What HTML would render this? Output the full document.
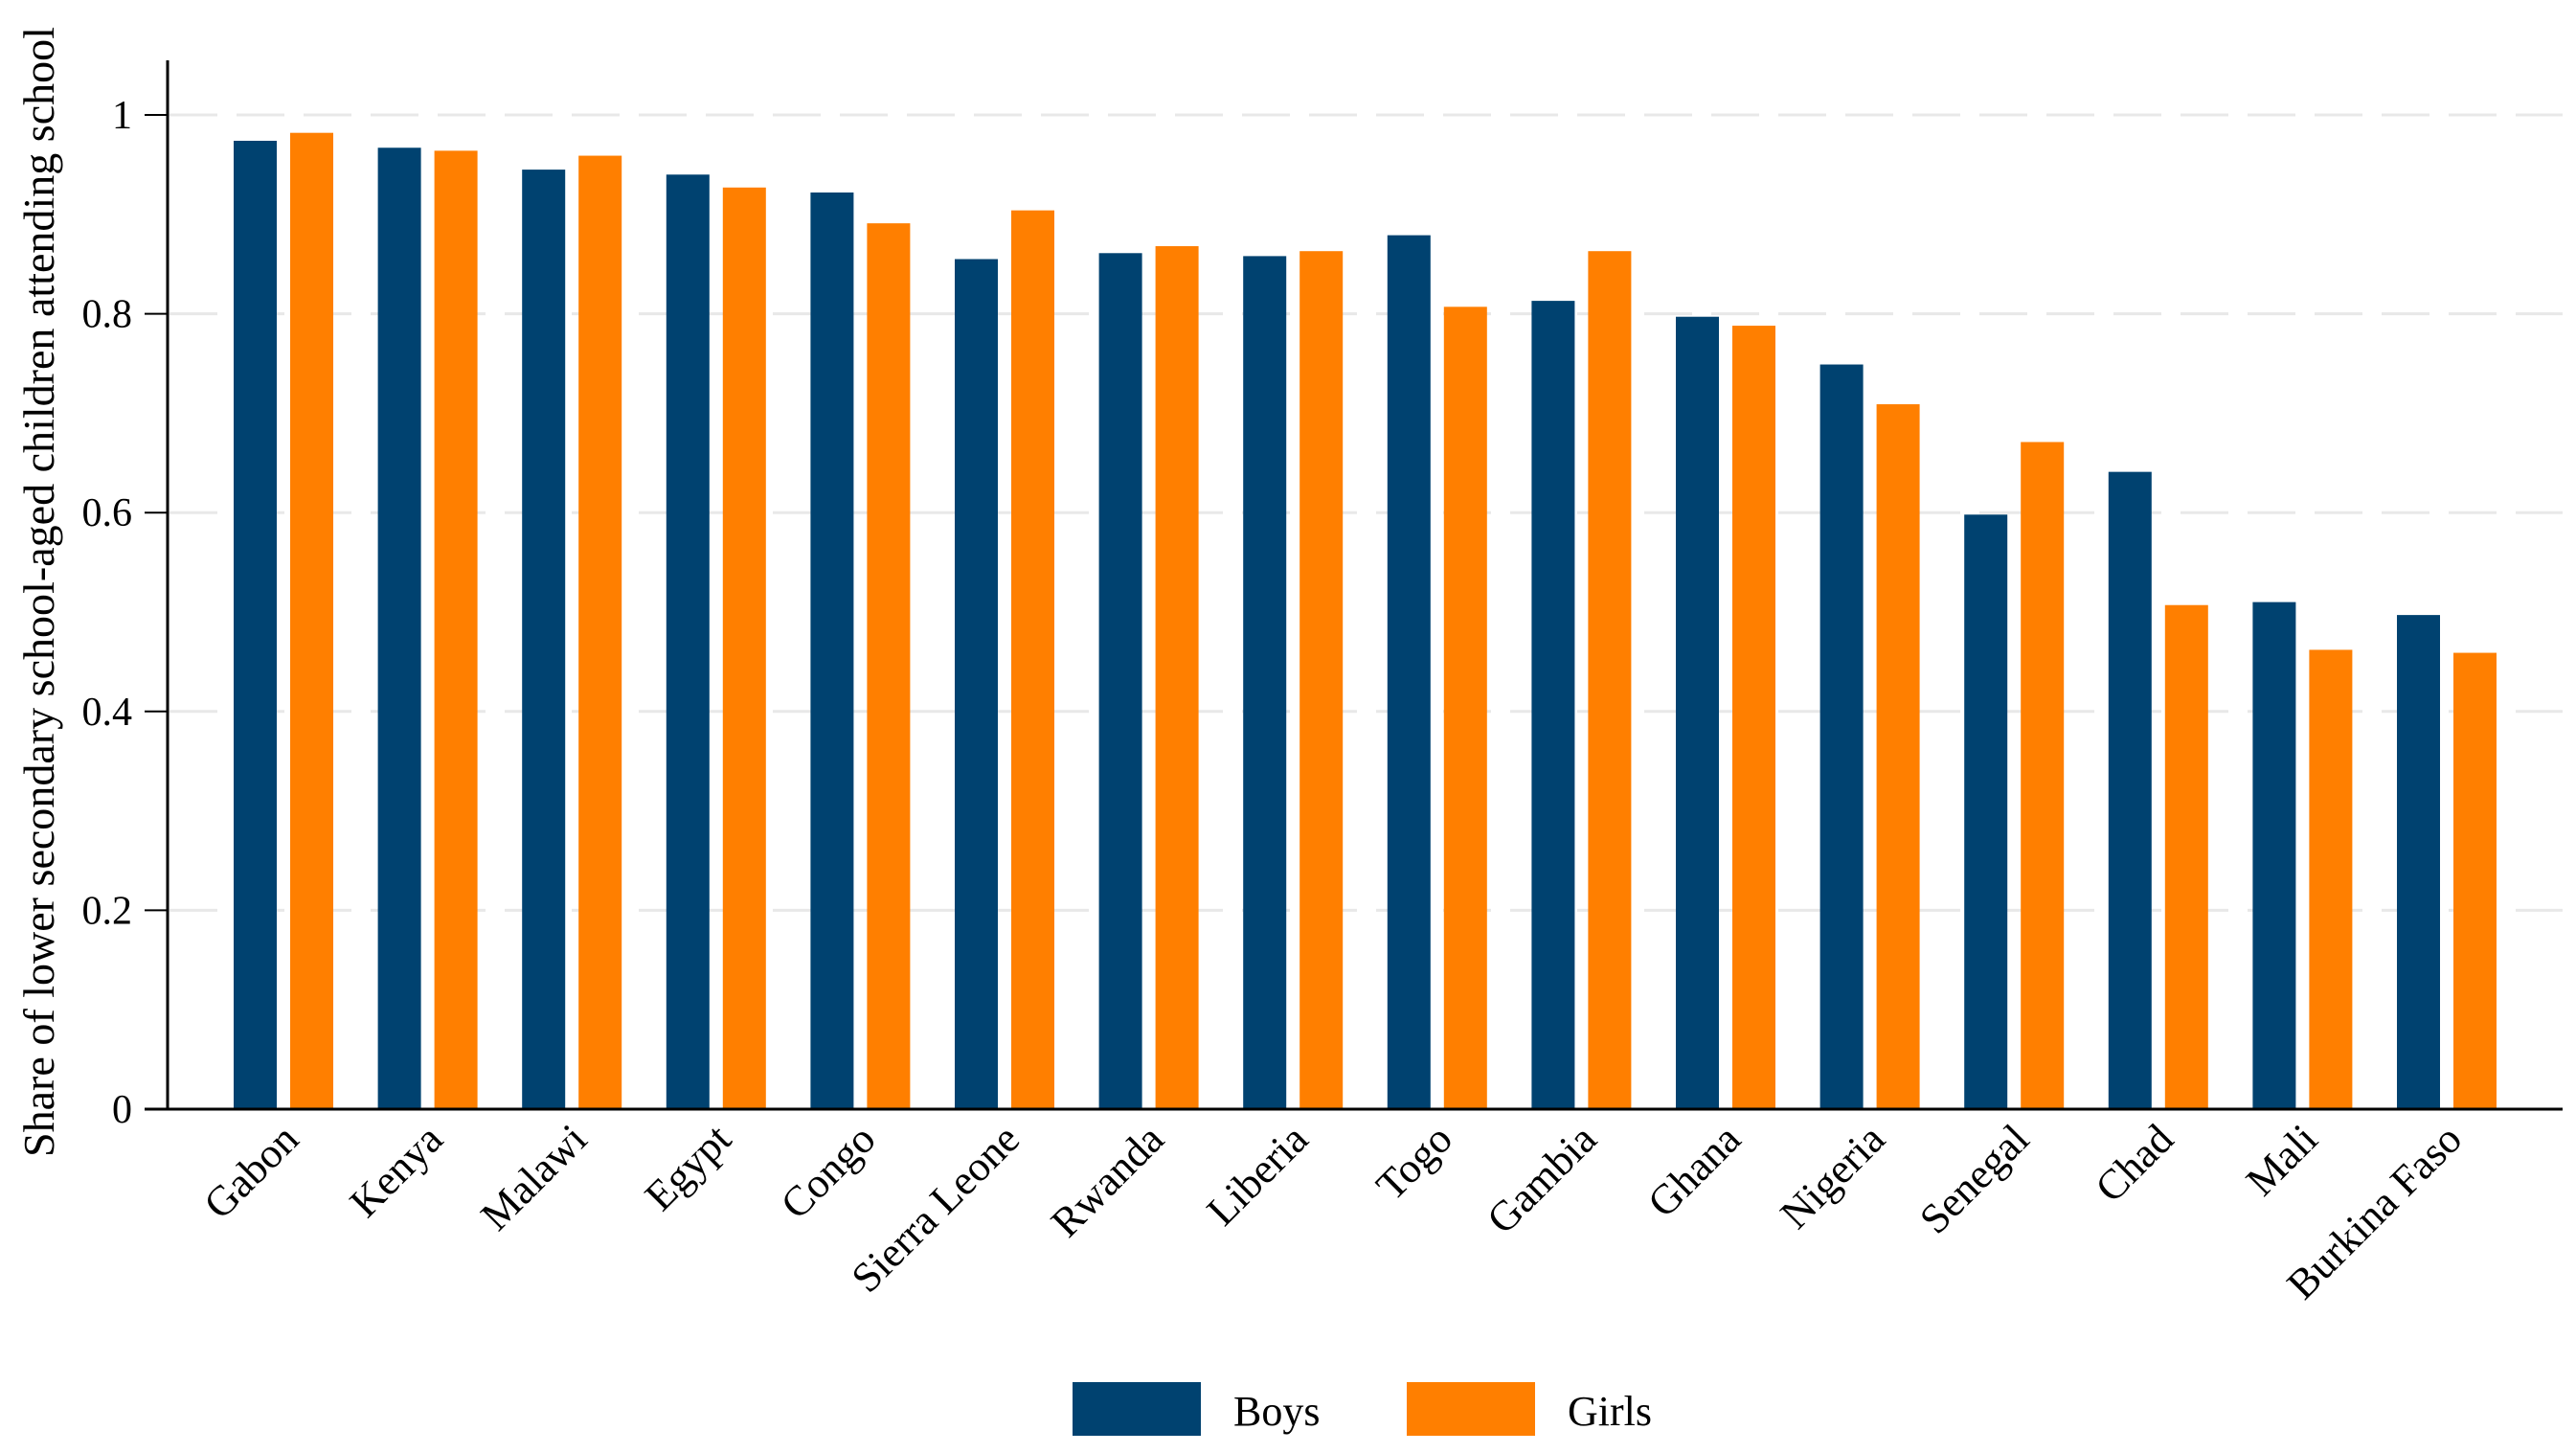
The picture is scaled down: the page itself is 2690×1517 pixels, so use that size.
<!DOCTYPE html>
<html><head><meta charset="utf-8"><style>
html,body{margin:0;padding:0;background:#fff;}
svg{display:block;font-family:"Liberation Serif",serif;}
</style></head><body>
<svg id="chart" width="2690" height="1517" viewBox="0 0 2690 1517">
<g id="grid"></g><g id="bars"></g><g id="axes"></g><g id="xlabels"></g>
<text transform="translate(56,618) rotate(-90)" text-anchor="middle" font-size="45" textLength="1180" lengthAdjust="spacingAndGlyphs" fill="#000">Share of lower secondary school-aged children attending school</text>
<g>
<rect x="1120" y="1443" width="134" height="56" fill="#004270"/>
<text x="1288" y="1488" font-size="44">Boys</text>
<rect x="1469" y="1443" width="134" height="56" fill="#ff7f00"/>
<text x="1637" y="1488" font-size="44">Girls</text>
</g>
</svg>
<script>
const categories=["Gabon","Kenya","Malawi","Egypt","Congo","Sierra Leone","Rwanda","Liberia","Togo","Gambia","Ghana","Nigeria","Senegal","Chad","Mali","Burkina Faso"];
const boys=[0.974,0.967,0.945,0.940,0.922,0.855,0.861,0.858,0.879,0.813,0.797,0.749,0.598,0.641,0.510,0.497];
const girls=[0.982,0.964,0.959,0.927,0.891,0.904,0.868,0.863,0.807,0.863,0.788,0.709,0.671,0.507,0.462,0.459];
const yTicks=[0,0.2,0.4,0.6,0.8,1];
const yTickLabels=["0","0.2","0.4","0.6","0.8","1"];
const NS="http://www.w3.org/2000/svg";
const X0=175,Y0=1158,PXU=1038,XR=2676;
const y=v=>Y0-v*PXU;
const groupLeft=i=>244+i*150.6;
const BW=45,GAP=14;
function mk(t,a,p){const e=document.createElementNS(NS,t);for(const k in a)e.setAttribute(k,a[k]);p.appendChild(e);return e;}
const grid=document.getElementById('grid'),bars=document.getElementById('bars'),axes=document.getElementById('axes'),xl=document.getElementById('xlabels');
yTicks.forEach((v,i)=>{
  if(v>0){const g=mk('line',{x1:X0+2,x2:XR,y1:y(v),y2:y(v),stroke:'#e8e8e8','stroke-width':3,'stroke-dasharray':'50 20'},grid);
  
  }
  const tk=mk('line',{x1:X0-24,x2:X0,y1:y(v),y2:y(v),stroke:'#000','stroke-width':2},axes);
  
  
  const t=mk('text',{x:X0-37,y:y(v)+14,'text-anchor':'end','font-size':42},axes);
  t.textContent=yTickLabels[i];
  
  
});
categories.forEach((c,i)=>{
  const l=groupLeft(i);
  const b=mk('rect',{x:l,y:y(boys[i]),width:BW,height:boys[i]*PXU,fill:'#004270'},bars);
  
  
  const g=mk('rect',{x:l+BW+GAP,y:y(girls[i]),width:BW,height:girls[i]*PXU,fill:'#ff7f00'},bars);
  
  
  const cx=l+BW+GAP/2;
  const t=mk('text',{transform:`translate(${cx+18},${Y0+34}) rotate(-45)`,'text-anchor':'end','font-size':44},xl);
  t.textContent=c;
  
  
});
const ya=mk('line',{x1:X0,x2:X0,y1:63,y2:Y0+1,stroke:'#000','stroke-width':3},axes);


const xa=mk('line',{x1:X0-24,x2:XR,y1:Y0,y2:Y0,stroke:'#000','stroke-width':3},axes);


</script>
</body></html>
